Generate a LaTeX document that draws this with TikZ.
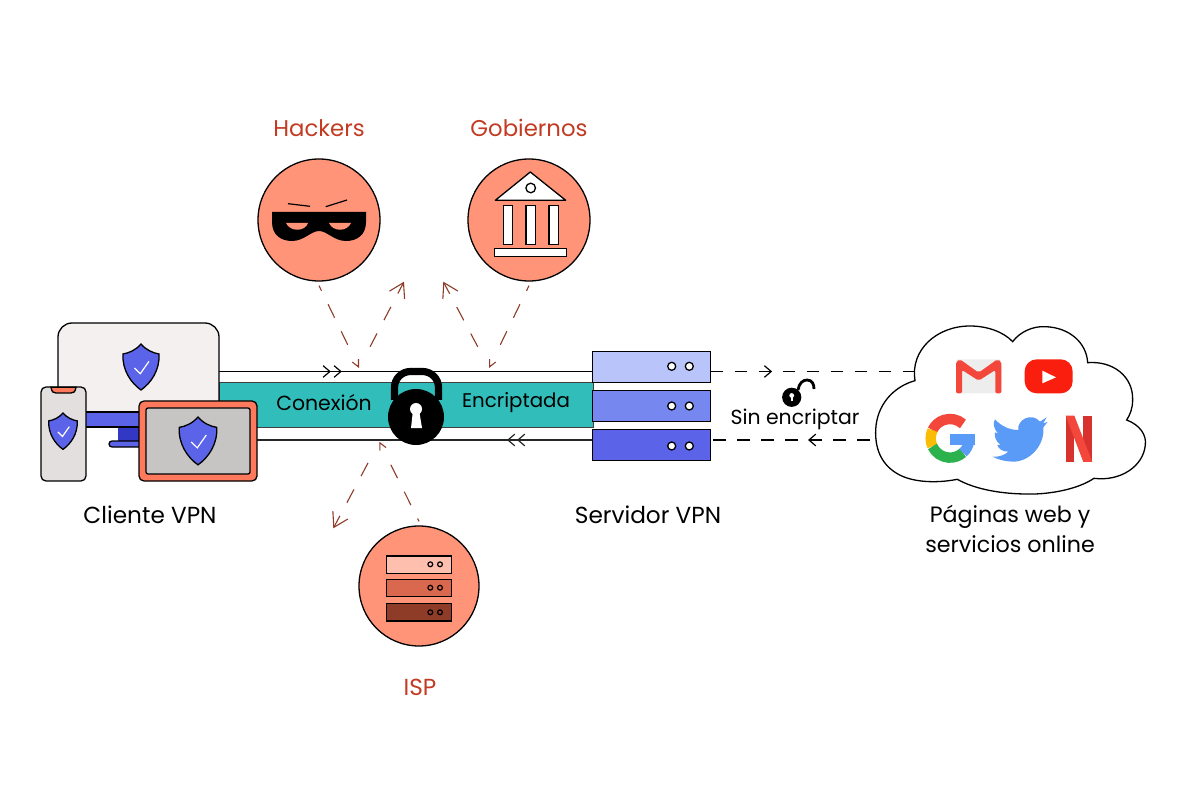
\documentclass[tikz,border=0pt]{standalone}
\usepackage{fontspec}
\setmainfont{Poppins}
\usetikzlibrary{arrows.meta,decorations.markings}
\definecolor{threatc}{HTML}{8E3B27}
\definecolor{labelc}{HTML}{C23B22}
\definecolor{salmon}{HTML}{FF9478}
\definecolor{coral}{HTML}{FF7A5C}
\definecolor{teal}{HTML}{31BEBB}
\definecolor{indigo}{HTML}{5B63E8}
\definecolor{paleindigo}{HTML}{B8C4FA}
\definecolor{midindigo}{HTML}{7688F0}
\definecolor{deepindigo}{HTML}{3238C4}
\definecolor{screenc}{HTML}{F3F0EF}
\definecolor{phonec}{HTML}{E2DFDE}
\definecolor{tabletc}{HTML}{C6C5C3}
\definecolor{gred}{HTML}{F4473C}
\definecolor{gyellow}{HTML}{FBBC05}
\definecolor{ggreen}{HTML}{2BB24C}
\definecolor{gblue}{HTML}{5B9BF8}
\definecolor{ytred}{HTML}{F91E0D}
\definecolor{nfdark}{HTML}{D8322F}
\tikzset{
  ink/.style={draw=black, line width=.65pt},
  disc/.style={ink, circle, fill=salmon, minimum size=61pt, inner sep=0pt},
  rack/.style={ink, rectangle, minimum width=59pt, minimum height=15.7pt, inner sep=0pt},
  smallrack/.style={ink, rectangle, minimum width=32.5pt, minimum height=8.8pt, inner sep=0pt},
  caption/.style={font=\fontsize{#1}{15}\selectfont, align=center, inner sep=0pt},
  threat/.style={draw=threatc, line width=.55pt, dash pattern=on 0pt off 12pt on 7.5pt off 7.5pt on 7.5pt off 7.5pt on 7.5pt off 7.5pt},
  threathead/.style={-{Straight Barb[length=7pt,width=8.5pt,line width=.55pt]}},
  v tip/.style={{Straight Barb[length=3.5pt,width=3.4pt,line width=.55pt]}-},
  wire/.style={draw=black, line width=.6pt},
  flowtip/.tip={Straight Barb[length=3.4pt,width=5.8pt,line width=.6pt]},
  mid tip/.style={postaction=decorate, decoration={markings, mark=at position #1 with {\arrow{flowtip}}}},
  twin tip/.style 2 args={postaction=decorate, decoration={markings,
    mark=at position #1 with {\arrow{flowtip}}, mark=at position #2 with {\arrow{flowtip}}}},
}
\newcommand*{\Shield}[3]{% #1,#2 = top point, #3 = scale
  \begin{scope}[shift={(#1,#2)}, scale=#3]
    \draw[ink, fill=indigo] (0,0) .. controls (5,6) and (12,9) .. (18,10)
      .. controls (19,26) and (10,39) .. (0,46)
      .. controls (-10,39) and (-19,26) .. (-18,10)
      .. controls (-12,9) and (-5,6) .. cycle;
    \draw[white, line width=.6pt] (-6.5,24) -- (-.7,29.7) -- (8,17.3);
  \end{scope}
}
\newcommand*{\GoogleArc}[3]{% #1 = colour, #2 = from, #3 = to
  \draw[#1, line width=5.2pt] (240,355) ++(#2:58) arc[start angle=#2, end angle=#3, radius=58];
}

\begin{document}
\begin{tikzpicture}[x=.5pt, y=-.5pt]
  \useasboundingbox (0,0) rectangle (1181,801);

  % tunnel
  \node[draw=black!75, line width=.5pt, fill=teal, minimum width=187pt, minimum height=22pt, inner sep=0pt] (tunnel) at (406,405) {};
  \coordinate (wireAin) at (219,371.5);
  \coordinate (wireAout) at (593,371.5);
  \coordinate (wireBin) at (593,440);
  \coordinate (wireBout) at (257,440);
  \draw[wire, twin tip={55.9pt}{61.4pt}] (wireAin) -- (wireAout);
  \draw[wire, black!85, twin tip={38pt}{43pt}] (wireBin) -- (wireBout);

  % servers
  \node[rack, fill=paleindigo] (srvA) at (651.7,367) {};
  \node[rack, fill=midindigo] (srvB) at (651.7,406) {};
  \node[rack, fill=indigo] (srvC) at (651.7,445) {};
  \foreach \y in {366.3,406,446} {
    \foreach \x in {671.7,689.3} {
      \draw[ink, fill=white] (\x,\y) circle (2pt);
    }
  }

  % unencrypted side
  \coordinate (lineAin) at (710.7,371.5);
  \coordinate (lineAout) at (915,371.5);
  \coordinate (lineBin) at (872,440);
  \coordinate (lineBout) at (711,440);
  \draw[wire, dash pattern=on 6pt off 6pt, mid tip=30.7pt] (lineAin) -- (lineAout);
  \draw[wire, line width=.85pt, dash pattern=on 6.5pt off 5.5pt, dash phase=11pt, mid tip=32pt] (lineBin) -- (lineBout);

  % cloud
  \begin{scope}[shift={(870,320)}, scale=.3333]
    \draw[ink, fill=white] (135,182) .. controls (120,90) and (200,18) .. (300,18)
      .. controls (350,18) and (400,35) .. (428,65)
      .. controls (450,35) and (490,18) .. (525,20)
      .. controls (600,22) and (650,70) .. (653,128)
      .. controls (730,122) and (790,170) .. (788,240)
      .. controls (788,265) and (780,285) .. (770,300)
      .. controls (810,315) and (830,345) .. (826,375)
      .. controls (820,440) and (750,485) .. (672,475)
      .. controls (620,510) and (530,525) .. (460,522)
      .. controls (380,520) and (310,505) .. (262,478)
      .. controls (190,492) and (120,485) .. (80,460)
      .. controls (30,430) and (15,380) .. (17,330)
      .. controls (20,255) and (70,200) .. (135,182) -- cycle;
    % gmail
    \fill[rounded corners=1pt, fill=black!7] (258,118) rectangle (394,220);
    \fill[rounded corners=1pt, gred] (258,125) -- (270,118) -- (326,158) -- (382,118) -- (394,125)
      -- (394,220) -- (376,220) -- (376,150) -- (326,182) -- (276,150) -- (276,220) -- (258,220) -- cycle;
    % youtube
    \fill[ytred, rounded corners=6pt] (464,118) rectangle (608,220);
    \fill[white] (517,152) -- (558,172) -- (517,190) -- cycle;
    % google
    \GoogleArc{gred}{-48}{-155}
    \GoogleArc{gyellow}{-155}{-205}
    \GoogleArc{ggreen}{-205}{-312}
    \GoogleArc{gblue}{-312}{-350}
    \fill[gblue] (240,342) rectangle (316,375);
    % twitter
    \fill[gblue] (375,298) .. controls (395,320) and (420,330) .. (445,330)
      .. controls (440,300) and (485,275) .. (510,305)
      -- (530,292) -- (520,310) -- (533,306) -- (520,322)
      .. controls (525,375) and (480,425) .. (430,425)
      .. controls (410,425) and (385,420) .. (368,410)
      .. controls (385,412) and (405,405) .. (415,395)
      .. controls (395,395) and (385,385) .. (382,375)
      -- (392,375) .. controls (378,365) and (372,350) .. (375,337)
      -- (385,341) .. controls (370,325) and (368,310) .. (375,298) -- cycle;
    % netflix
    \fill[nfdark] (587,287) rectangle (613,426);
    \fill[nfdark] (640,287) rectangle (667,426);
    \fill[gred] (587,287) -- (613,287) -- (667,426) -- (640,426) -- cycle;
  \end{scope}

  % open padlock
  \draw[line width=1.4pt] (798,390) .. controls (799,383) and (803,380) .. (807,380) .. controls (812,380) and (814,384) .. (814,389);
  \fill (791.7,397.3) circle (4.8pt);
  \fill[white] (791.7,395.5) circle (1.2pt);
  \fill[white] (790.8,396) rectangle (792.6,401.5);

  % client devices
  \node[ink, rectangle, fill=screenc, rounded corners=7pt, minimum width=80.5pt, minimum height=46pt, inner sep=0pt] (monitor) at (138.5,369) {};
  \fill[deepindigo] (118,427) rectangle (140,442);
  \draw[ink, fill=indigo, rounded corners=1.5pt] (109,441) rectangle (150,447);
  \draw[ink, fill=indigo] (70,412) rectangle (200,427);
  \Shield{141}{344}{1}
  \node[ink, rectangle, fill=phonec, rounded corners=2.5pt, minimum width=22.5pt, minimum height=47pt, inner sep=0pt] (phone) at (63.5,434) {};
  \draw[ink, fill=coral] (51,387.3) .. controls (52,392) and (53,393) .. (56,393) -- (71,393) .. controls (74,393) and (75,392) .. (76,387.3) -- cycle;
  \Shield{63}{413}{.79}
  \node[ink, rectangle, fill=coral, rounded corners=2.5pt, minimum width=59pt, minimum height=40pt, inner sep=0pt] (tablet) at (198,441) {};
  \node[ink, rectangle, fill=tabletc, rounded corners=1pt, minimum width=52pt, minimum height=33pt, inner sep=0pt] (tabletscreen) at (198,441) {};
  \Shield{198}{417}{1.04}

  % main padlock
  \draw[line width=3.6pt, rounded corners=8pt] (394.5,400) -- (394.5,371.5) -- (438.5,371.5) -- (438.5,400);
  \fill (416,417) circle (14pt);
  \fill[white] (416,409) circle (3pt);
  \fill[white] (413,410) -- (419,410) -- (422,428) -- (411,428) -- cycle;

  % threat discs
  \node[disc] (hackers) at (319,220) {};
  \node[disc] (gobiernos) at (529,220) {};
  \node[disc, minimum size=60pt] (isp) at (419,586) {};

  % mask
  \fill (272,212) -- (366,212) -- (366,222) .. controls (366,235) and (357,241) .. (346,241)
    .. controls (334,241) and (327,231) .. (319,231)
    .. controls (311,231) and (304,241) .. (292,241)
    .. controls (281,241) and (272,235) .. (272,222) -- cycle;
  \fill[salmon] (286,223) -- (308,223) .. controls (305,232) and (290,232) .. (286,223) -- cycle;
  \fill[salmon] (329,223) -- (351,223) .. controls (347,232) and (333,232) .. (329,223) -- cycle;
  \draw[line width=.6pt] (288,203.7) -- (310,206.3);
  \draw[line width=.6pt] (325.7,206.7) -- (347,200);

  % building
  \draw[ink, fill=white, line join=round] (530.3,172) -- (565.7,200.3) -- (495.3,200.3) -- cycle;
  \draw[ink] (530.7,188) circle (2.4pt);
  \foreach \x in {503.3,526,549} {
    \draw[ink, fill=white] (\x,205.7) rectangle ++(9.3,38.6);
  }
  \draw[ink, fill=white] (494.7,248.7) rectangle (566.7,256.3);

  % isp rack
  \node[smallrack, fill=salmon!60!white] (ispA) at (419.2,564.8) {};
  \node[smallrack, fill=coral!85!black] (ispB) at (419.2,588) {};
  \node[smallrack, fill=threatc] (ispC) at (419.2,612.2) {};
  \foreach \y in {564.3,587.7,612.3} {
    \foreach \x in {430.3,440} {
      \draw[line width=.6pt] (\x,\y) circle (1.2pt);
    }
  }

  % threats
  \coordinate (tipHa) at (359,368);
  \coordinate (outHa) at (404,281.7);
  \coordinate (tipGo) at (489,368);
  \coordinate (outGo) at (443.3,281.7);
  \coordinate (tipIs) at (379.3,441.7);
  \coordinate (outIs) at (333.3,528.3);
  \draw[threat, v tip] (tipHa) -- ([yshift=-2pt]hackers.south);
  \draw[threat, threathead] (tipHa) -- (outHa);
  \draw[threat, v tip] (tipGo) -- ([yshift=-2pt]gobiernos.south);
  \draw[threat, threathead] (tipGo) -- (outGo);
  \draw[threat, v tip] (tipIs) -- ([yshift=2pt]isp.north);
  \draw[threat, threathead] (tipIs) -- (outIs);

  % texts
  \node[caption=11.4, text=labelc] (lblhackers) at (319,128) {Hackers};
  \node[caption=11.4, text=labelc] (lblgobiernos) at (529,128) {Gobiernos};
  \node[caption=11.6, text=labelc] (lblisp) at (420,687) {ISP};
  \node[caption=11.6] (lblcliente) at (150,515) {Cliente VPN};
  \node[caption=11.6] (lblservidor) at (648,515) {Servidor VPN};
  \node[caption=11.1] (lblweb) at (1010,529) {Páginas web y\\servicios online};
  \node[caption=10.2] (lblconexion) at (324,403) {Conexión};
  \node[caption=9.9] (lblencriptada) at (516,403) {Encriptada};
  \node[caption=10.2] (lblsin) at (795,419) {Sin encriptar};
\end{tikzpicture}
\end{document}
